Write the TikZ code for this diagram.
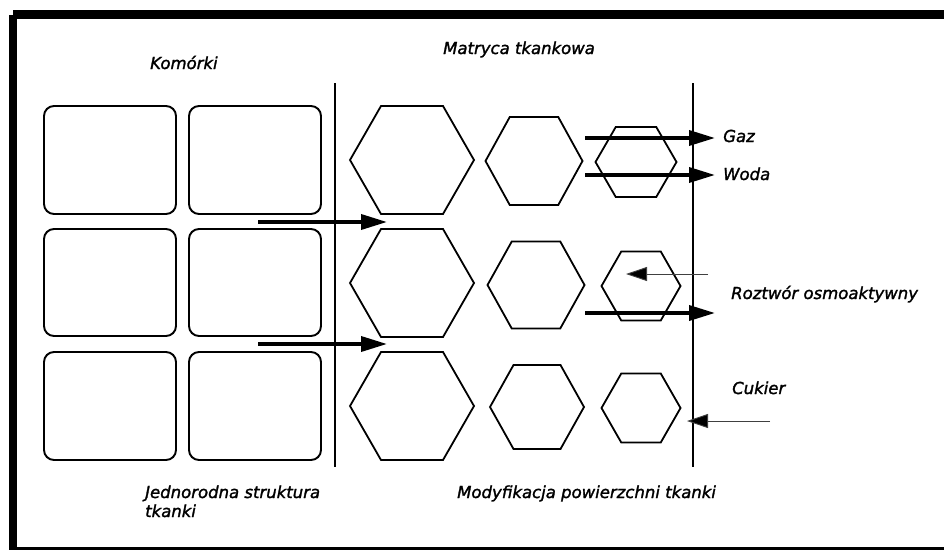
\documentclass[tikz,border=0pt]{standalone}
\usepackage{fontspec}
\setmainfont{DejaVu Sans}
\newfontfamily\labelfont{DejaVu Sans Oblique}[FakeBold=1.6]
\usetikzlibrary{arrows.meta}

\begin{document}
\begin{tikzpicture}[x=1pt,y=-1pt,
  frame/.style={line width=8.5pt},
  cell/.style={draw,line width=1.9pt,rounded corners=10pt},
  hexline/.style={line width=1.8pt,line join=miter},
  wall/.style={line width=1.6pt},
  flowthick/.style={line width=3.6pt,-{Triangle[length=26pt,width=15pt]}},
  flowthin/.style={line width=0.9pt,draw=black!75,-{Triangle[length=21pt,width=14pt,fill=black]}},
  lbl/.style={font=\labelfont\fontsize{16.5}{19.5}\selectfont,inner sep=0pt,align=left}
]
\useasboundingbox (0,0) rectangle (944,549);

% outer frame (right edge runs off the page)
\draw[frame] (13,14.5) -- (960,14.5) (13,14.5) -- (13,551) -- (960,551);

% cells: 3 rows x 2 columns
\foreach \r/\t/\b in {1/106/214, 2/229/336, 3/352/460}{
  \draw[cell] (44,\t) rectangle (176,\b);
  \draw[cell] (189,\t) rectangle (321,\b);
}

% hexagons of the tissue matrix: centre x, centre y, half width, half height
\foreach \cx/\cy/\a/\b in {412/160/62/54, 412/283/62/54, 412/406/62/54,
                           534/161/48.5/44, 536/285/48.5/43.5, 537/407/47/42,
                           636/162/40.5/35, 641/286/39.5/34.5, 641/408/39.5/34.5}{
  \draw[hexline] (\cx-\a,\cy) -- (\cx-\a/2,\cy-\b) -- (\cx+\a/2,\cy-\b)
                 -- (\cx+\a,\cy) -- (\cx+\a/2,\cy+\b) -- (\cx-\a/2,\cy+\b) -- cycle;
}

% boundaries
\coordinate (w1t) at (335,83);  \coordinate (w1b) at (335,467);
\coordinate (w2t) at (693,83);  \coordinate (w2b) at (693,467);
\draw[wall] (w1t) -- (w1b);
\draw[wall] (w2t) -- (w2b);

% flow arrows
\coordinate (a1s) at (258,222); \coordinate (a1e) at (387,222);
\coordinate (a2s) at (258,344); \coordinate (a2e) at (387,344);
\coordinate (gs) at (585,138);  \coordinate (ge) at (715,138);
\coordinate (ws) at (585,175);  \coordinate (we) at (715,175);
\coordinate (os) at (585,313);  \coordinate (oe) at (715,313);
\coordinate (rs) at (708,274);  \coordinate (re) at (626,274);
\coordinate (cs) at (770,421);  \coordinate (ce) at (687,421);
\draw[flowthick] (a1s) -- (a1e);
\draw[flowthick] (a2s) -- (a2e);
\draw[flowthick] (gs) -- (ge);
\draw[flowthick] (ws) -- (we);
\draw[flowthick] (os) -- (oe);
\draw[flowthin] (rs) -- (re);
\draw[flowthin] (cs) -- (ce);

% labels
\node[lbl,anchor=base west] (komorki) at (150,69) {Komórki};
\node[lbl,anchor=base west] (matryca) at (443,54) {Matryca tkankowa};
\node[lbl,anchor=base west] (gaz) at (723,142) {Gaz};
\node[lbl,anchor=base west] (woda) at (723,180) {Woda};
\node[lbl,anchor=base west] (roztwor) at (731,299) {Roztwór osmoaktywny};
\node[lbl,anchor=base west] (cukier) at (732,394) {Cukier};
\node[lbl,anchor=base west] (jedno) at (145,498) {Jednorodna struktura};
\node[lbl,anchor=base west] (jedno2) at (145,517) {tkanki};
\node[lbl,anchor=base west] (modyf) at (457,498) {Modyfikacja powierzchni tkanki};
\end{tikzpicture}
\end{document}
